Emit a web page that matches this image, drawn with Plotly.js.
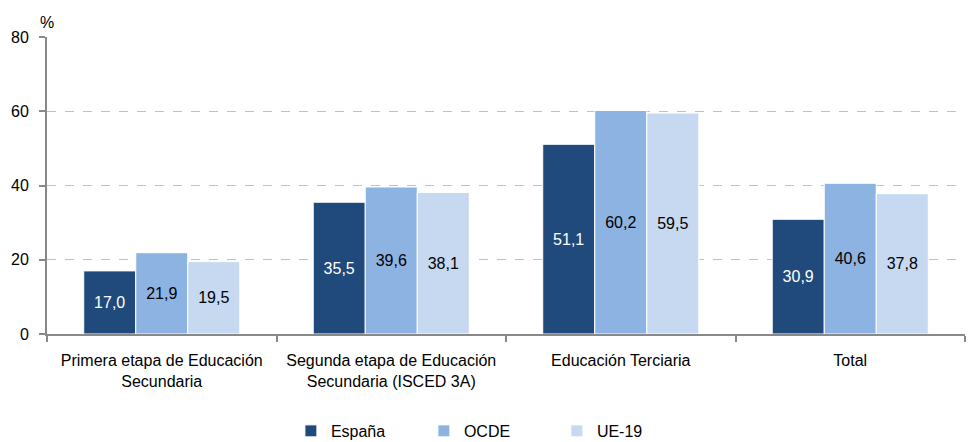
<!DOCTYPE html>
<html>
<head>
<meta charset="utf-8">
<script src="https://cdn.plot.ly/plotly-3.0.1.min.js"></script>
<style>html,body{margin:0;padding:0;background:#fff}#chart{width:969px;height:442px}</style>
</head>
<body>
<div id="chart"></div>
<script>
const categories = ["Primera etapa de Educación<br>Secundaria", "Segunda etapa de Educación<br>Secundaria (ISCED 3A)", "Educación Terciaria", "Total"];
const seriesNames = ["España", "OCDE", "UE-19"];
const espana = [17.0, 35.5, 51.1, 30.9];
const ocde = [21.9, 39.6, 60.2, 40.6];
const ue19 = [19.5, 38.1, 59.5, 37.8];
const colors = ["#204a7c", "#8db3e2", "#c6d9f1"];
const textColors = ["#ffffff", "#000000", "#000000"];
const yTicks = [0, 20, 40, 60, 80];

const fmt = v => v.toFixed(1).replace(".", ",");
const allValues = [espana, ocde, ue19];
const traces = allValues.map((vals, i) => ({
  type: "bar",
  name: seriesNames[i],
  x: categories,
  y: vals,
  text: vals.map(fmt),
  textposition: "inside",
  insidetextanchor: "middle",
  textangle: 0,
  constraintext: "none",
  textfont: {family: "Liberation Sans, Arial, sans-serif", size: 16, color: textColors[i]},
  marker: {color: colors[i], line: {color: "#ffffff", width: 1}},
  hoverinfo: "none"
}));

const layout = {
  width: 969, height: 442,
  margin: {l: 47, r: 4, t: 37, b: 108},
  paper_bgcolor: "#fff", plot_bgcolor: "#fff",
  barmode: "group",
  bargap: 0.32,
  bargroupgap: 0,
  font: {family: "Liberation Sans, Arial, sans-serif", size: 16, color: "#000"},
  showlegend: true,
  legend: {orientation: "h", x: 0.483, xanchor: "center", xref: "paper",
           yref: "container", y: 0.025, yanchor: "middle",
           font: {size: 16}, entrywidth: 88, traceorder: "normal"},
  xaxis: {
    tickmode: "array", tickvals: categories, ticktext: categories,
    showline: true, linecolor: "#898989", linewidth: 2,
    ticks: "outside", tickson: "boundaries", ticklen: 6, tickcolor: "#898989", tickwidth: 2,
    showgrid: false, zeroline: false, fixedrange: true,
    tickfont: {size: 16}, ticklabelstandoff: 11, automargin: false
  },
  yaxis: {
    range: [0, 80], tickmode: "array", tickvals: yTicks, ticktext: yTicks.map(String),
    showline: true, linecolor: "#898989", linewidth: 2,
    ticks: "outside", ticklen: 6, tickcolor: "#898989", tickwidth: 2,
    showgrid: true, gridcolor: "#c0c0c0", griddash: "dash", gridwidth: 1,
    zeroline: false, tickfont: {size: 16}, ticklabelstandoff: 7, automargin: false
  },
  annotations: [{
    text: "%", xref: "paper", yref: "paper", x: 0, y: 1, xanchor: "center", yanchor: "bottom",
    yshift: 4, showarrow: false, font: {size: 16}
  }]
};

Plotly.newPlot("chart", traces, layout, {staticPlot: true, displayModeBar: false});
</script>
</body>
</html>
